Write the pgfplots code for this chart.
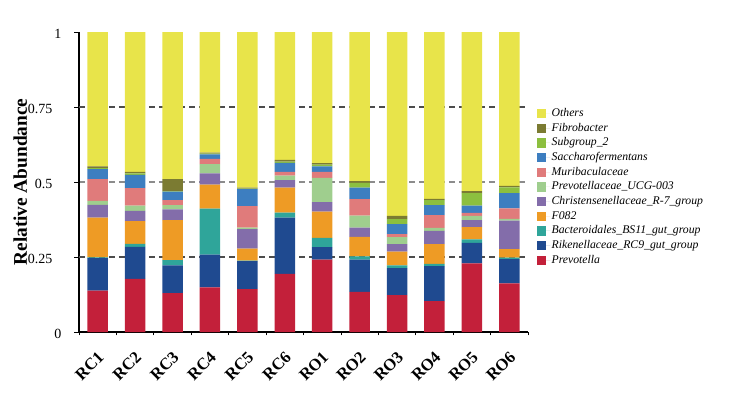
\documentclass[border=0pt]{standalone}
\usepackage{fontspec}
\setmainfont{Liberation Serif}
\usepackage{pgfplots}
\usepackage{pgfplotstable}
\pgfplotsset{compat=1.18}

\definecolor{cOthers}{HTML}{E8E44A}
\definecolor{cFibro}{HTML}{7B7B32}
\definecolor{cSub}{HTML}{8CBF3F}
\definecolor{cSacch}{HTML}{3D7EC0}
\definecolor{cMuri}{HTML}{E07B7B}
\definecolor{cPUCG}{HTML}{9FCE8E}
\definecolor{cChrist}{HTML}{836DAA}
\definecolor{cF}{HTML}{EE9B25}
\definecolor{cBact}{HTML}{2FA59A}
\definecolor{cRiken}{HTML}{1F4A90}
\definecolor{cPrev}{HTML}{C3203A}

% relative abundance per sample (RC1..RC6, RO1..RO6)
\pgfplotstableread{
x Prev Riken Bact F082 Christ PUCG Muri Sacch Sub Fibro Others
0  .138 .108 .003 .132 .043 .013 .073 .033 .003 .006 .448
1  .177 .107 .010 .076 .034 .017 .059 .044 .005 .005 .466
2  .130 .092 .018 .133 .036 .014 .017 .028 .002 .040 .490
3  .149 .109 .153 .080 .038 .031 .017 .015 .003 .003 .402
4  .143 .093 .002 .040 .065 .005 .072 .056 .002 .003 .519
5  .194 .187 .017 .083 .025 .015 .013 .030 .004 .006 .426
6  .241 .042 .031 .087 .032 .081 .020 .018 .006 .005 .437
7  .134 .107 .011 .065 .031 .040 .055 .038 .016 .006 .497
8  .123 .090 .009 .046 .025 .023 .010 .034 .016 .011 .613
9  .103 .117 .007 .066 .044 .010 .043 .033 .017 .004 .556
10 .229 .068 .012 .041 .023 .014 .010 .024 .042 .007 .530
11 .162 .081 .005 .028 .095 .006 .035 .051 .019 .005 .513
}\abund

\begin{document}
\begin{tikzpicture}
\begin{axis}[
    name=ax,
    ybar stacked,
    width=336.75pt, height=225pt,
    scale only axis,
    bar width=15.4pt,
    xmin=-0.5, xmax=11.5,
    ymin=0, ymax=1,
    axis lines=left,
    axis line style={-, line width=0.8pt},
    tick align=outside,
    xtick={0,...,11},
    xticklabels={RC1,RC2,RC3,RC4,RC5,RC6,RO1,RO2,RO3,RO4,RO5,RO6},
    x tick style={draw=none},
    minor xtick={-0.5,0.5,...,11.5},
    minor x tick style={draw=black, line width=0.6pt},
    minor tick length=2.5pt,
    xticklabel style={font=\fontsize{12.5}{12.5}\selectfont\bfseries, xshift=-0.5pt, yshift=-8.6pt, rotate=45, anchor=north east, inner sep=1pt},
    ytick={0,0.25,0.5,0.75,1},
    yticklabels={\makebox[0pt][l]{\kern1.5pt 0},0.25,0.5,0.75,\makebox[0pt][l]{\kern1.5pt 1}},
    y tick style={black, line width=0.6pt},
    major tick length=3.5pt,
    yticklabel style={font=\fontsize{10.5}{10.5}\selectfont, xshift=-13pt, yshift=-1.5pt},
    /pgf/number format/assume math mode=true,
    minor ytick={0.5},
    minor y tick style={draw=none},
    yminorgrids,
    minor grid style={color=black!45, line width=1.4pt, dash pattern=on 4.5pt off 3pt},
    extra y ticks={0.25,0.75},
    extra y tick labels={},
    extra y tick style={ymajorgrids, major tick length=0pt,
        major grid style={color=black!70, line width=1.1pt, dash pattern=on 4.5pt off 3pt}},
    ylabel={Relative Abundance},
    every axis y label/.style={at={(axis description cs:-0.1307,0.5)}, rotate=90, anchor=center,
        font=\fontsize{14.5}{14.5}\selectfont\bfseries},
    reverse legend,
    legend cell align=left,
    legend image code/.code={\path (0pt,0pt) -- (9.8pt,0pt); \fill[#1] (0pt,-3.4pt) rectangle (6.8pt,3.4pt);},
    legend style={draw=none, fill=none, at={(1.02,0.751)}, anchor=north west,
        inner sep=0pt, row sep=1pt,
        font=\fontsize{8.8}{8.8}\selectfont\itshape,
        nodes={inner sep=1pt, text height=6.2pt, text depth=1.8pt}},
    every axis plot/.append style={draw=none},
]
\addplot[fill=cPrev]   table[x=x, y=Prev]   {\abund}; \addlegendentry{Prevotella}
\addplot[fill=cRiken]  table[x=x, y=Riken]  {\abund}; \addlegendentry{Rikenellaceae\_RC9\_gut\_group}
\addplot[fill=cBact]   table[x=x, y=Bact]   {\abund}; \addlegendentry{Bacteroidales\_BS11\_gut\_group}
\addplot[fill=cF]      table[x=x, y=F082]   {\abund}; \addlegendentry{F082}
\addplot[fill=cChrist] table[x=x, y=Christ] {\abund}; \addlegendentry{Christensenellaceae\_R-7\_group}
\addplot[fill=cPUCG]   table[x=x, y=PUCG]   {\abund}; \addlegendentry{Prevotellaceae\_UCG-003}
\addplot[fill=cMuri]   table[x=x, y=Muri]   {\abund}; \addlegendentry{Muribaculaceae}
\addplot[fill=cSacch]  table[x=x, y=Sacch]  {\abund}; \addlegendentry{Saccharofermentans}
\addplot[fill=cSub]    table[x=x, y=Sub]    {\abund}; \addlegendentry{Subgroup\_2}
\addplot[fill=cFibro]  table[x=x, y=Fibro]  {\abund}; \addlegendentry{Fibrobacter}
\addplot[fill=cOthers] table[x=x, y=Others] {\abund}; \addlegendentry{Others}
\end{axis}
\pgfresetboundingbox
\path[use as bounding box] ([xshift=-59.25pt, yshift=-54.75pt]ax.south west) rectangle ++(562.5pt,303.75pt);
\end{tikzpicture}
\end{document}
